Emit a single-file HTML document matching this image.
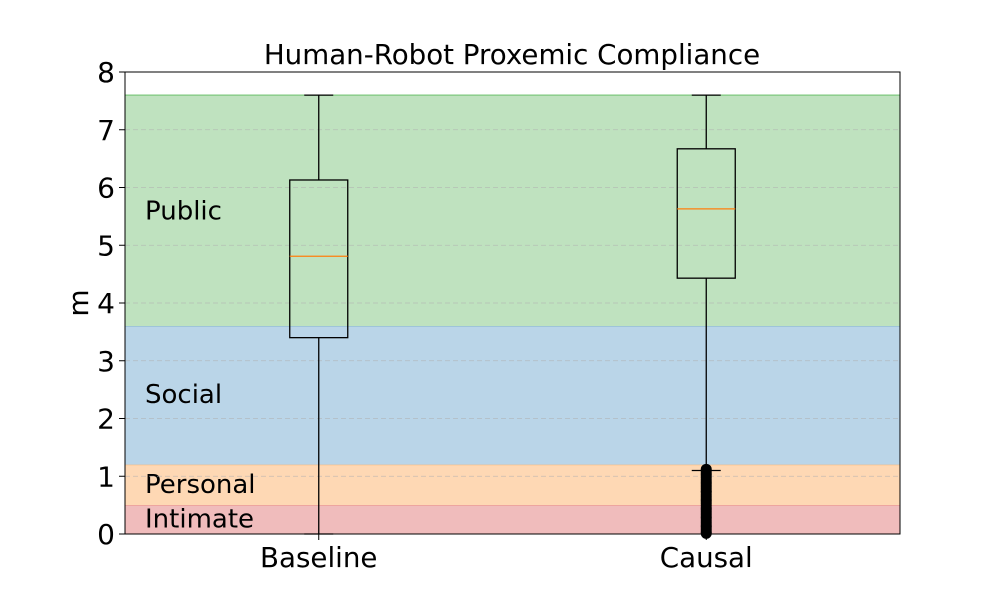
<!DOCTYPE html>
<html><head><meta charset="utf-8"><style>
body{margin:0;background:#fff;font-family:"DejaVu Sans","Liberation Sans",sans-serif}
svg text{font-family:"DejaVu Sans","Liberation Sans",sans-serif}
</style></head><body>
<svg id="chart" width="1000" height="600" viewBox="0 0 1000 600" xmlns="http://www.w3.org/2000/svg">
<rect width="1000" height="600" fill="#fff"/>
<g id="bands"></g><g id="grid"></g><g id="boxes"></g><g id="axes"></g>
<text x="512" y="64" font-size="27.7" text-anchor="middle">Human-Robot Proxemic Compliance</text>
<text x="0" y="0" font-size="28" text-anchor="middle" transform="translate(88,303) rotate(-90)">m</text>
</svg>
<script>
const categories=["Baseline","Causal"];
const whiskLow=[0,1.1];
const q1=[3.4,4.43];
const medians=[4.81,5.63];
const q3=[6.13,6.67];
const whiskHigh=[7.6,7.6];
const outliers=[[],[0.01,0.04,0.08,0.12,0.15,0.19,0.23,0.27,0.3,0.34,0.38,0.42,0.45,0.49,0.53,0.57,0.6,0.64,0.68,0.72,0.75,0.79,0.83,0.87,0.9,0.94,0.98,1.02,1.05,1.09,1.12]];
const yTicks=[0,1,2,3,4,5,6,7,8];
const zoneNames=["Intimate","Personal","Social","Public"];
const zoneLow=[0,0.5,1.2,3.6];
const zoneHigh=[0.5,1.2,3.6,7.6];
const zoneFill=["#f0bcbc","#fed8b4","#bad5e8","#bfe2bf"];
const zoneEdge=["#e8928f","#fdb877","#8fb9d8","#7fc87f"];
const zoneLabelY=[0.27,0.87,2.42,5.6];

const L=125,R=900,T=72,B=534,ymax=8;
const y=v=>B-(v/ymax)*(B-T);
const x=i=>L+(R-L)*(0.25+0.5*i);
const NS="http://www.w3.org/2000/svg";
function mk(p,t,a){const e=document.createElementNS(NS,t);for(const k in a)e.setAttribute(k,a[k]);document.getElementById(p).appendChild(e);return e;}

zoneNames.forEach((n,i)=>{
  const r=mk("bands","rect",{x:L,y:y(zoneHigh[i]),width:R-L,height:y(zoneLow[i])-y(zoneHigh[i]),fill:zoneFill[i]});
  
  
  const ln=mk("bands","line",{x1:L,x2:R,y1:y(zoneHigh[i]),y2:y(zoneHigh[i]),stroke:zoneEdge[i],"stroke-width":1.2});
  
  
  const t=mk("bands","text",{x:145,y:y(zoneLabelY[i])+9,"font-size":26});
  t.textContent=n;
  
  
});
yTicks.forEach(v=>{
  const g=mk("grid","line",{x1:L,x2:R,y1:y(v),y2:y(v),stroke:"#b0b0b0","stroke-dasharray":"5,3","stroke-width":0.8,opacity:0.7});
  
  
  const tk=mk("axes","line",{x1:L-6,x2:L,y1:y(v),y2:y(v),stroke:"#000"});
  
  
  const t=mk("axes","text",{x:L-10,y:y(v)+10,"font-size":28,"text-anchor":"end"});
  t.textContent=v;
  
  
});
categories.forEach((c,i)=>{
  const cx=x(i),hw=29,cw=14.5;
  const ln=(a,b,c2,d,n,col)=>{const e=mk("boxes","line",{x1:a,x2:b,y1:c2,y2:d,stroke:col||"#000","stroke-width":1.3});};
  ln(cx,cx,y(whiskLow[i]),y(q1[i]),'whisker-low-'+c.toLowerCase());
  ln(cx,cx,y(q3[i]),y(whiskHigh[i]),'whisker-high-'+c.toLowerCase());
  ln(cx-cw,cx+cw,y(whiskLow[i]),y(whiskLow[i]),'cap-low-'+c.toLowerCase());
  ln(cx-cw,cx+cw,y(whiskHigh[i]),y(whiskHigh[i]),'cap-high-'+c.toLowerCase());
  const b=mk("boxes","rect",{x:cx-hw,y:y(q3[i]),width:2*hw,height:y(q1[i])-y(q3[i]),fill:"none",stroke:"#000","stroke-width":1.3});
  
  
  ln(cx-hw,cx+hw,y(medians[i]),y(medians[i]),'median-'+c.toLowerCase(),"#ff7f0e");
  outliers[i].forEach(v=>{
    const o=mk("boxes","circle",{cx:cx,cy:y(v),r:5.5,fill:"#000"});
    
    
  });
  const tk=mk("axes","line",{x1:cx,x2:cx,y1:B,y2:B+6,stroke:"#000"});
  
  
  const t=mk("axes","text",{x:cx,y:B+33,"font-size":27.7,"text-anchor":"middle"});
  t.textContent=c;
  
  
});
const fr=mk("axes","rect",{x:L,y:T,width:R-L,height:B-T,fill:"none",stroke:"#000","stroke-width":1});


</script>
</body></html>
